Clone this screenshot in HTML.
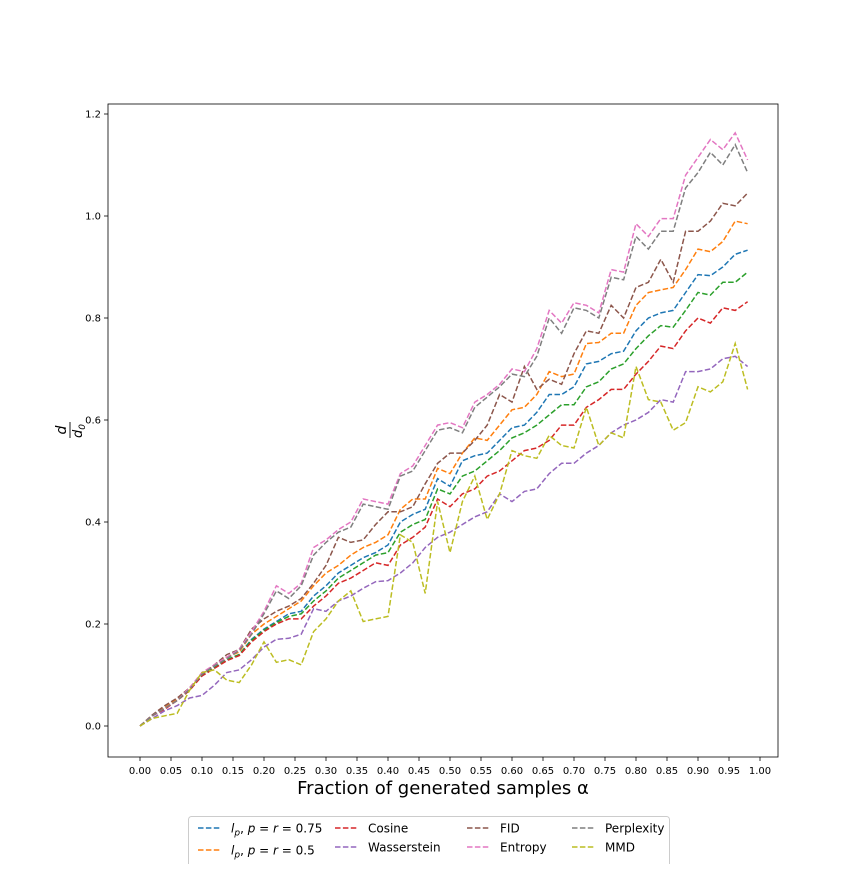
<!DOCTYPE html>
<html><head><meta charset="utf-8"><style>
body{margin:0;background:#fff;width:864px;height:864px;overflow:hidden;font-family:"Liberation Sans","DejaVu Sans",sans-serif}
</style></head><body>
<svg id="chart" width="864" height="864" xmlns="http://www.w3.org/2000/svg" font-family="'DejaVu Sans','Liberation Sans',sans-serif"></svg>
<script>
const alphas=[0,.02,.04,.06,.08,.10,.12,.14,.16,.18,.20,.22,.24,.26,.28,.30,.32,.34,.36,.38,.40,.42,.44,.46,.48,.50,.52,.54,.56,.58,.60,.62,.64,.66,.68,.70,.72,.74,.76,.78,.80,.82,.84,.86,.88,.90,.92,.94,.96,.98];
const lp075=[0,.02,.035,.05,.07,.10,.115,.13,.14,.17,.19,.205,.22,.225,.255,.275,.30,.315,.33,.34,.355,.40,.415,.425,.485,.47,.52,.53,.535,.56,.585,.59,.615,.65,.65,.665,.71,.715,.73,.735,.775,.80,.81,.815,.85,.885,.883,.90,.925,.933];
const lp05=[0,.02,.037,.052,.075,.102,.12,.135,.145,.18,.20,.215,.23,.245,.275,.30,.315,.335,.35,.36,.375,.425,.445,.445,.505,.495,.535,.565,.56,.59,.62,.625,.65,.695,.685,.69,.75,.752,.77,.77,.825,.85,.855,.86,.895,.935,.93,.95,.99,.985];
const green=[0,.02,.035,.05,.07,.10,.114,.13,.14,.168,.188,.203,.215,.22,.245,.265,.29,.305,.32,.335,.34,.38,.395,.405,.465,.455,.49,.50,.52,.54,.565,.575,.59,.61,.63,.63,.665,.675,.70,.71,.74,.765,.785,.782,.815,.85,.845,.87,.87,.89];
const cosine=[0,.02,.033,.05,.07,.098,.113,.128,.138,.165,.185,.20,.21,.21,.235,.255,.28,.29,.305,.32,.315,.355,.37,.39,.445,.43,.455,.465,.49,.50,.52,.54,.545,.56,.59,.59,.625,.64,.66,.66,.69,.715,.745,.74,.775,.80,.79,.82,.815,.832];
const wasser=[0,.015,.03,.04,.055,.06,.08,.105,.11,.13,.155,.17,.172,.18,.23,.225,.245,.255,.27,.283,.285,.30,.32,.35,.37,.38,.395,.41,.42,.455,.44,.46,.465,.495,.515,.515,.535,.55,.575,.59,.60,.615,.64,.635,.695,.695,.70,.72,.725,.705];
const fid=[0,.022,.04,.055,.075,.10,.12,.14,.15,.19,.21,.225,.235,.25,.28,.315,.37,.36,.365,.395,.42,.42,.43,.475,.515,.535,.535,.56,.59,.65,.635,.705,.66,.68,.67,.73,.775,.77,.825,.80,.86,.87,.915,.87,.97,.97,.99,1.025,1.02,1.045];
const entropy=[0,.02,.035,.05,.075,.105,.12,.135,.15,.185,.225,.275,.26,.28,.35,.365,.385,.40,.445,.44,.435,.495,.51,.55,.59,.595,.585,.635,.65,.67,.70,.695,.74,.815,.79,.83,.825,.81,.895,.89,.985,.96,.995,.995,1.08,1.115,1.15,1.13,1.163,1.11];
const perplex=[0,.02,.035,.05,.072,.102,.118,.132,.148,.18,.22,.265,.25,.275,.335,.36,.38,.39,.435,.43,.425,.49,.50,.54,.58,.585,.575,.625,.645,.665,.69,.685,.725,.80,.77,.82,.815,.80,.88,.875,.96,.935,.97,.97,1.055,1.085,1.125,1.10,1.14,1.085];
const mmd=[0,.015,.02,.025,.07,.105,.11,.09,.085,.12,.165,.125,.13,.12,.185,.21,.245,.265,.205,.21,.215,.375,.36,.26,.44,.34,.44,.49,.405,.455,.54,.53,.525,.57,.55,.545,.625,.55,.575,.565,.705,.64,.635,.58,.595,.665,.655,.675,.75,.66];
const xTicks=[0,.05,.1,.15,.2,.25,.3,.35,.4,.45,.5,.55,.6,.65,.7,.75,.8,.85,.9,.95,1];
const yTicks=[0,.2,.4,.6,.8,1.0,1.2];
const NS="http://www.w3.org/2000/svg";
const svg=document.getElementById('chart');
const L=108,R=778,T=104,B=757;
function sx(v){return 140+620*v;}
function sy(v){return 726-510*v;}
function el(t,a,p){const e=document.createElementNS(NS,t);for(const k in a)e.setAttribute(k,a[k]);(p||svg).appendChild(e);return e;}
const frame=el('rect',{x:L,y:T,width:R-L,height:B-T,fill:'none',stroke:'#000','stroke-width':0.8});


xTicks.forEach(t=>{
  el('line',{x1:sx(t),x2:sx(t),y1:B,y2:B+4,stroke:'#000','stroke-width':0.8});
  const tx=el('text',{x:sx(t),y:B+17,'font-size':10,'text-anchor':'middle'});tx.textContent=t.toFixed(2);
  
  
});
yTicks.forEach(t=>{
  el('line',{x1:L-4,x2:L,y1:sy(t),y2:sy(t),stroke:'#000','stroke-width':0.8});
  const tx=el('text',{x:L-7,y:sy(t)+3.5,'font-size':10,'text-anchor':'end'});tx.textContent=t.toFixed(1);
  
  
});
const xl=el('text',{x:443,y:794,'font-size':18,'text-anchor':'middle'});xl.textContent='Fraction of generated samples α';


const yg=el('g',{transform:'translate(70,430) rotate(-90)'});


const yd=el('text',{x:0,y:-4,'font-size':14,'text-anchor':'middle','font-style':'italic'},yg);yd.textContent='d';
el('line',{x1:-8,x2:8,y1:0,y2:0,stroke:'#000','stroke-width':0.9},yg);
const yd0=el('text',{x:-1,y:12,'font-size':13,'text-anchor':'middle','font-style':'italic'},yg);yd0.innerHTML='d<tspan font-size="9" dy="3">0</tspan>';
const all=[[lp075,'#1f77b4','series-lp075'],[lp05,'#ff7f0e','series-lp05'],[green,'#2ca02c','series-green'],[cosine,'#d62728','series-cosine'],[wasser,'#9467bd','series-wasserstein'],[fid,'#8c564b','series-fid'],[entropy,'#e377c2','series-entropy'],[perplex,'#7f7f7f','series-perplexity'],[mmd,'#bcbd22','series-mmd']];
all.forEach(([d,c,n])=>{
  const pts=d.map((v,i)=>sx(alphas[i]).toFixed(1)+','+sy(v).toFixed(1)).join(' ');
  const p=el('polyline',{points:pts,fill:'none',stroke:c,'stroke-width':1.5,'stroke-dasharray':'5.5,2.4'});
  
  
});
const lg=el('g',{});


el('rect',{x:188.5,y:816.5,width:481,height:60,rx:3,fill:'#fff',stroke:'#ccc'},lg);
const entries=[['#1f77b4',198,828,'<tspan font-style="italic">l</tspan><tspan font-size="9" dy="3" font-style="italic">p</tspan><tspan dy="-3">, </tspan><tspan font-style="italic">p</tspan> = <tspan font-style="italic">r</tspan> = 0.75'],
['#ff7f0e',198,850,'<tspan font-style="italic">l</tspan><tspan font-size="9" dy="3" font-style="italic">p</tspan><tspan dy="-3">, </tspan><tspan font-style="italic">p</tspan> = <tspan font-style="italic">r</tspan> = 0.5'],
['#d62728',335,828,'Cosine'],['#9467bd',335,847,'Wasserstein'],
['#8c564b',467,828,'FID'],['#e377c2',467,847,'Entropy'],
['#7f7f7f',572,828,'Perplexity'],['#bcbd22',572,847,'MMD']];
entries.forEach(([c,x,y,t])=>{
  const g=el('g',{},lg);
  
  
  el('line',{x1:x,x2:x+22,y1:y,y2:y,stroke:c,'stroke-width':1.5,'stroke-dasharray':'5.5,2.4'},g);
  const tx=el('text',{x:x+33,y:y+4.5,'font-size':12},g);
  tx.innerHTML=t;
});
</script>
</body></html>
